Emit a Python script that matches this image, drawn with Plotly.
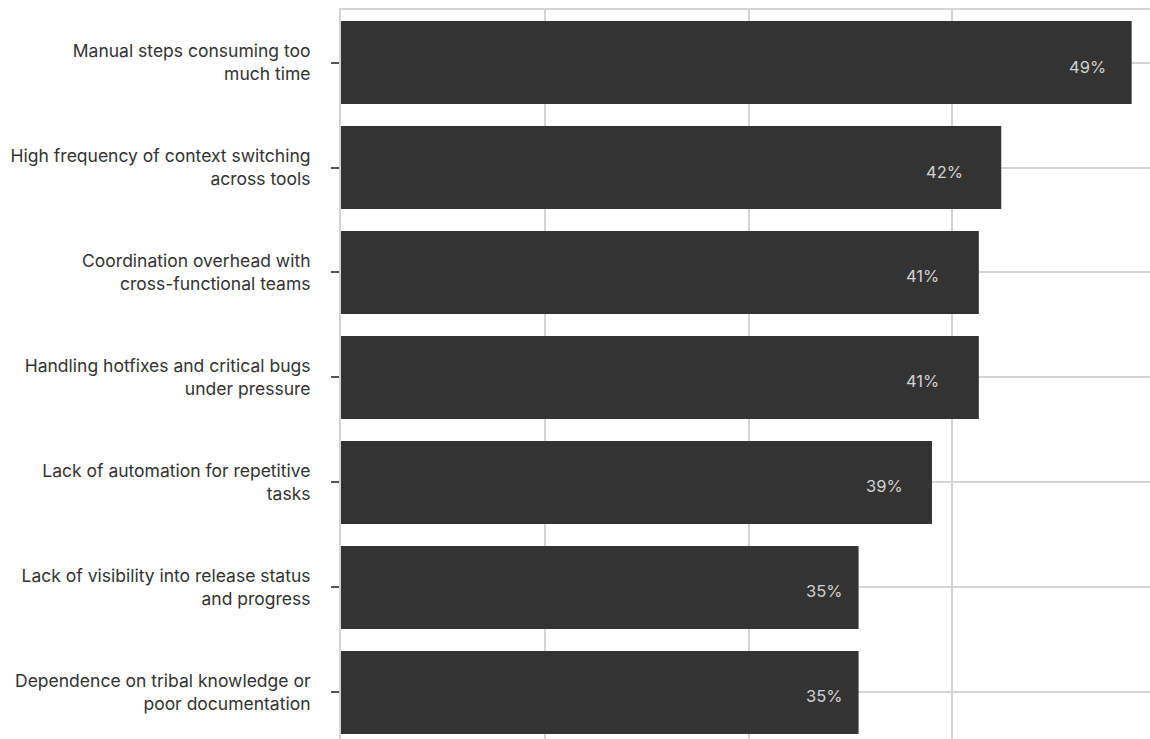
import plotly.graph_objects as go

categories = [
    "Manual steps consuming too<br>much time",
    "High frequency of context switching<br>across tools",
    "Coordination overhead with<br>cross-functional teams",
    "Handling hotfixes and critical bugs<br>under pressure",
    "Lack of automation for repetitive<br>tasks",
    "Lack of visibility into release status<br>and progress",
    "Dependence on tribal knowledge or<br>poor documentation",
]
values = [48.8, 42.4, 41.3, 41.3, 39.0, 35.4, 35.4]
labels = ["49%", "42%", "41%", "41%", "39%", "35%", "35%"]
# inner padding (px) of each value label from its bar end (style)
label_pad = [24, 36, 38, 38, 27, 15, 15]

# bottom-to-top order for plotly
cats = categories[::-1]
vals = values[::-1]
labs = labels[::-1]
pads = label_pad[::-1]

fig = go.Figure()
fig.add_trace(go.Bar(
    x=vals, y=cats, orientation="h",
    marker=dict(color="#333333", line=dict(width=0)),
    width=0.79,
    hoverinfo="skip",
))

for c, v, t, p in zip(cats, vals, labs, pads):
    fig.add_annotation(x=v, y=c, text=t, showarrow=False, xanchor="right",
                       xshift=-p, yshift=-4,
                       font=dict(family="Inter, sans-serif", size=16.5, color="#d2d2d2"))

fig.update_layout(
    width=1150, height=739,
    margin=dict(l=341, r=0, t=10, b=0),
    paper_bgcolor="white", plot_bgcolor="white",
    showlegend=False,
    font=dict(family="Inter, sans-serif", size=17.5, color="#333333"),
)
fig.update_xaxes(
    range=[10, 49.7], dtick=10, tick0=10,
    showgrid=True, gridcolor="#d4d4d4", gridwidth=2,
    showticklabels=False, zeroline=False,
    showline=True, linecolor="#d4d4d4", linewidth=2, mirror=True,
)
fig.update_yaxes(
    range=[-0.443, 6.5],
    showgrid=True, gridcolor="#d4d4d4", gridwidth=2,
    ticks="outside", ticklen=8, tickcolor="#555555", tickwidth=1.5,
    ticklabelstandoff=17,
    showline=True, linecolor="#d4d4d4", linewidth=2,
)

fig.write_html("out.html")
